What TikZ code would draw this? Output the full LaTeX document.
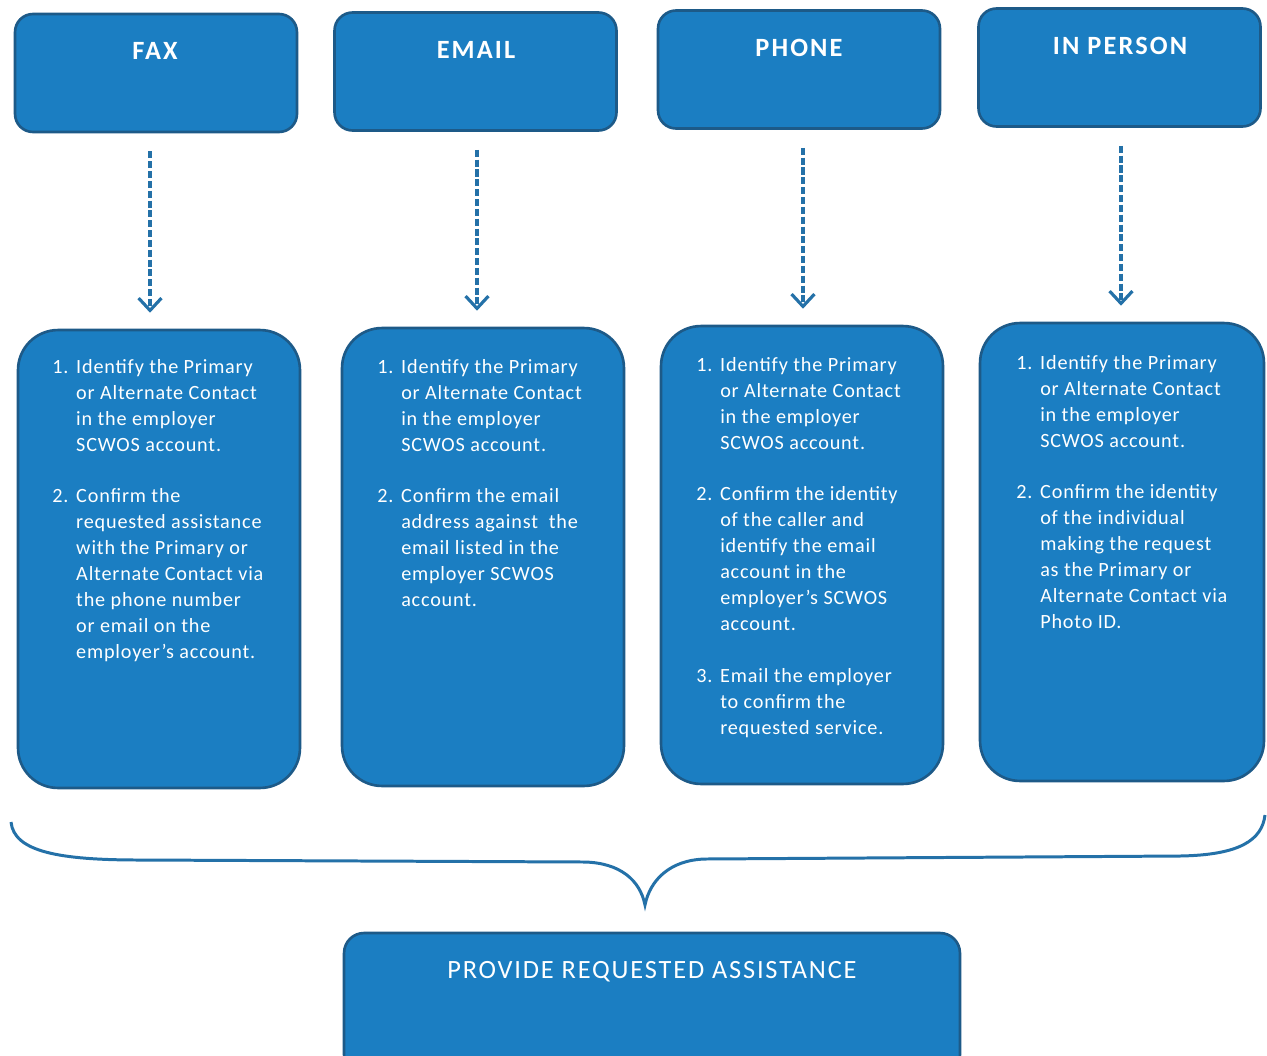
\documentclass[tikz,border=0pt]{standalone}
\usepackage{fontspec}
\setmainfont{Carlito}
\usetikzlibrary{positioning,arrows.meta}

\definecolor{boxblue}{HTML}{1B7EC2}
\definecolor{edgeblue}{HTML}{1D5A88}
\definecolor{lineblue}{HTML}{2471A8}

\newcommand{\idstep}{1. & Identify the Primary\\ & or Alternate Contact\\ & in the employer\\ & SCWOS account.\\ & \\}

\tikzset{
  chan/.style={draw=edgeblue,fill=boxblue,line width=1.5pt,rounded corners=0.36cm,minimum width=5.64cm,minimum height=2.36cm},
  check/.style={chan,rounded corners=0.8cm,minimum height=9.16cm},
  ttl/.style={text=white,font=\fontsize{15}{18}\selectfont\bfseries\addfontfeature{LetterSpace=8}},
  steps/.style={text=white,font=\fontsize{11.5}{14.74}\selectfont\addfontfeature{LetterSpace=4},anchor=north west,inner sep=0pt,align=left},
  flow/.style={draw=lineblue,line width=2pt,dash pattern=on 4pt off 1.6pt,shorten <=0.36cm,shorten >=0.32cm,
    -{Straight Barb[length=7pt,width=13pt,line width=1.8pt]}}
}

\begin{document}
\begin{tikzpicture}[x=0.02cm,y=-0.02cm]
\clip (0,0) rectangle (1267,1055);
\fill[white] (0,0) rectangle (1267,1055);

% channels
\node[chan] (fax) at (156,73) {};
\node[chan] (email) at (475.5,71.5) {};
\node[chan] (phone) at (799,69.5) {};
\node[chan] (person) at (1119.5,67.5) {};
\node[ttl] (tfax) at (155,51) {FAX};
\node[ttl] (temail) at (476,50) {EMAIL};
\node[ttl] (tphone) at (799,48) {PHONE};
\node[ttl] (tperson) at (1120,46) {IN PERSON};

% checks
\node[check] (c1) at (159,559) {};
\node[check] (c2) at (483,557) {};
\node[check] (c3) at (802,555) {};
\node[check,minimum width=5.68cm] (c4) at (1122,552) {};

\foreach \x/\y/\d in {fax/c1/-6,email/c2/1.5,phone/c3/4,person/c4/1.5}
	\draw[flow]([xshift=\d*0.567pt]\x.south)to([xshift=\d*0.567pt]\x.south |- \y.north);

\node[steps] (s1) at (52,355) {\begin{tabular}{@{}p{13.6pt}@{}l@{}}
\idstep
2. & Confirm the\\ & requested assistance\\ & with the Primary or\\ & Alternate Contact via\\ & the phone number\\ & or email on the\\ & employer’s account.
\end{tabular}};
\node[steps] (s2) at (377,355) {\begin{tabular}{@{}p{13.6pt}@{}l@{}}
\idstep
2. & Confirm the email\\ & address against~ the\\ & email listed in the\\ & employer SCWOS\\ & account.
\end{tabular}};
\node[steps] (s3) at (696,353) {\begin{tabular}{@{}p{13.6pt}@{}l@{}}
\idstep
2. & Confirm the identity\\ & of the caller and\\ & identify the email\\ & account in the\\ & employer’s SCWOS\\ & account.\\ & \\
3. & Email the employer\\ & to confirm the\\ & requested service.
\end{tabular}};
\node[steps] (s4) at (1016,351) {\begin{tabular}{@{}p{13.6pt}@{}l@{}}
\idstep
2. & Confirm the identity\\ & of the individual\\ & making the request\\ & as the Primary or\\ & Alternate Contact via\\ & Photo ID.
\end{tabular}};

% brace
\coordinate (tip) at (645,905);
\draw[lineblue,line width=1.7pt] (11,822) .. controls (14,852) and (60,860) .. (140,860) -- (585,862)
  .. controls (620,863) and (640,880) .. (tip) .. controls (650,880) and (670,860) .. (705,859) -- (1180,856)
  .. controls (1240,855) and (1262,840) .. (1265,815);

% result
\node[chan,rounded corners=0.4cm,minimum width=12.32cm,minimum height=2.84cm] (help) at (652,1004) {};
\node[text=white,font=\fontsize{15}{18}\selectfont\addfontfeature{LetterSpace=7}] (thelp) at (652,972) {PROVIDE REQUESTED ASSISTANCE};

\end{tikzpicture}
\end{document}
